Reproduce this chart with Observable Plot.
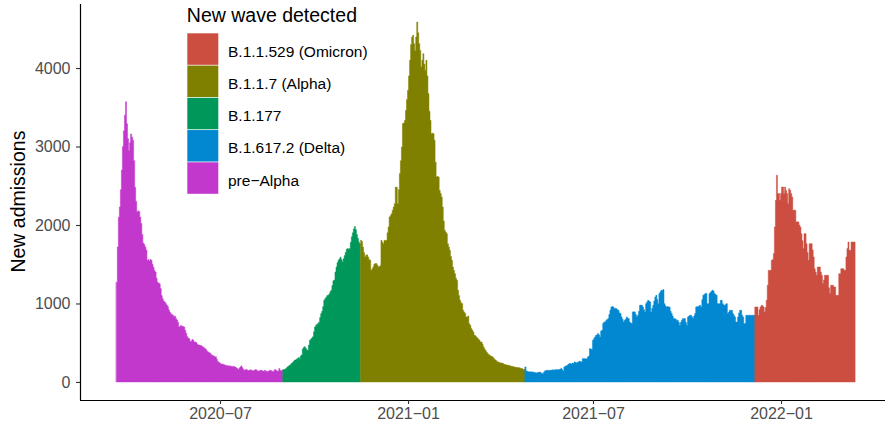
<!DOCTYPE html>
<html><head><meta charset="utf-8">
<script src="https://cdn.jsdelivr.net/npm/d3@7"></script>
<script src="https://cdn.jsdelivr.net/npm/@observablehq/plot@0.6"></script>
<style>body{margin:0;background:#fff}#chart{width:886px;height:425px}</style>
</head><body><div id="chart"></div>
<script>
// Wave names (legend order) and colours
const waveNames = ["B.1.1.529 (Omicron)", "B.1.1.7 (Alpha)", "B.1.177", "B.1.617.2 (Delta)", "pre\u2212Alpha"];
const waveColors = ["#CC4E41", "#808000", "#00975A", "#0288D1", "#C238CC"];

// First day of each wave's run of daily values
const preAlphaStart = "2020-03-22";
const b1177Start = "2020-09-01";
const alphaStart = "2020-11-16";
const deltaStart = "2021-04-26";
const omicronStart = "2021-12-07";

// Daily new admissions
const preAlphaValues = [
1270,1720,2100,2230,2450,2700,3000,3200,3400,3570,
3290,3100,2950,3050,3160,3120,3080,2820,2480,2300,
2170,2180,2170,2100,2020,1880,1770,1750,1720,1680,
1550,1560,1540,1560,1550,1500,1460,1420,1400,1320,
1270,1260,1250,1190,1100,1060,1030,1020,1000,980,
960,920,890,870,860,850,830,840,810,790,
760,700,710,720,710,705,700,660,620,580,
560,550,520,520,540,530,510,510,500,480,
470,470,465,460,450,440,430,420,400,385,
380,370,360,340,340,330,320,320,290,260,
250,240,230,230,225,220,215,210,210,205,
200,205,200,195,200,195,190,180,170,160,
175,190,205,180,160,150,155,160,150,145,
150,155,150,140,145,150,160,150,140,135,
145,150,145,140,135,150,140,130,135,140,
150,145,135,130,145,160,150,140,135,170,
150,140,150];
const b1177Values = [
155,160,165,175,190,200,210,220,235,245,
260,275,280,290,300,310,300,330,345,420,
440,450,430,410,405,470,530,545,560,575,
640,700,720,735,745,760,820,870,900,960,
1040,1060,1080,1100,1105,1120,1150,1170,1230,1290,
1300,1400,1465,1520,1550,1570,1590,1560,1530,1570,
1610,1650,1690,1700,1690,1700,1780,1850,1900,1950,
1980,1940,1880,1830,1780,1760];
const alphaValues = [
1805,1790,1720,1650,1592,1614,1620,1592,1560,1550,
1423,1440,1465,1500,1508,1508,1490,1465,1470,1480,
1805,1780,1762,1805,1800,1805,1900,1975,2102,2120,
2144,2187,2230,2272,2484,2480,2272,2450,2655,2820,
2994,3292,3300,3334,3461,3600,3716,3900,4098,4300,
4395,4417,4310,4225,4395,4586,4450,4310,4225,4013,
4100,4183,4050,3970,4098,3900,3674,3450,3334,3164,
3170,3164,3079,2800,2611,2620,2611,2441,2400,2357,
2229,2050,1932,1910,1890,1762,1720,1677,1600,1550,
1465,1420,1380,1320,1295,1168,1100,1041,1010,998,
914,890,871,828,828,840,743,720,680,660,
637,595,590,574,560,545,531,510,510,480,
446,420,400,382,361,350,340,330,325,318,
300,285,275,265,255,250,245,242,240,235,
225,221,218,215,213,210,205,200,200,195,
191,190,185,183,183,180,175,170,168,160,
157];
const deltaValues = [
191,140,135,130,127,130,128,127,125,120,
118,115,120,125,127,118,110,106,125,140,
145,148,149,145,150,149,152,155,150,157,
160,155,157,160,165,170,160,140,191,200,
205,213,225,234,234,230,240,234,255,250,
242,250,258,263,260,255,297,300,295,297,
297,318,330,425,420,412,531,550,573,594,
600,616,600,573,650,658,744,764,765,786,
795,807,860,913,955,960,955,934,940,934,
920,913,880,871,829,800,765,786,800,829,
815,807,765,750,744,892,895,892,860,829,
850,900,977,980,977,955,920,892,998,1020,
1041,1030,1019,892,940,977,1030,1083,1104,1050,
998,1126,1150,1168,1170,1177,998,970,955,960,
955,955,900,871,840,807,807,800,786,786,
760,722,760,786,807,805,807,760,722,829,
840,850,850,830,807,840,871,955,960,955,
970,977,955,1050,1104,1115,1126,1126,998,998,
1126,1140,1155,1168,1160,1126,1115,1104,1000,998,
998,1041,1041,998,980,977,990,998,871,890,
913,913,913,871,850,829,765,765,829,880,
913,913,850,829,744,744,850,850,850,850,
850,850,850,850,850];
const omicronValues = [
955,955,955,850,920,955,977,970,955,892,
950,1041,1232,1423,1420,1423,1550,1560,1636,1975,
2315,2633,2400,2400,2315,2400,2484,2484,2400,2484,
2440,2400,2272,2463,2442,2400,2357,2187,2190,2187,
2039,2040,2039,2000,1975,1890,1800,1700,1890,1890,
1762,1650,1550,1762,1762,1762,1680,1592,1444,1400,
1359,1465,1465,1465,1400,1359,1253,1300,1359,1359,
1359,1359,1200,1126,1232,1232,1232,1211,1211,1104,
1104,1104,1380,1380,1444,1444,1444,1423,1423,1592,
1700,1783,1677,1677,1783,1783,1783,1783];

// Axis ticks
const xTicks = ["2020-07-01", "2021-01-01", "2021-07-01", "2022-01-01"];
const yTicks = [0, 1000, 2000, 3000, 4000];

const DAY = 864e5;
const series = [
  {name: waveNames[4], start: preAlphaStart, values: preAlphaValues},
  {name: waveNames[2], start: b1177Start, values: b1177Values},
  {name: waveNames[1], start: alphaStart, values: alphaValues},
  {name: waveNames[3], start: deltaStart, values: deltaValues},
  {name: waveNames[0], start: omicronStart, values: omicronValues}
];
// Each day is a one-day-wide column centred on its date: a step outline
// starting half a day before the date, closed half a day after the last one.
const rows = [];
for (const s of series) {
  const t = Date.parse(s.start + "T00:00:00Z");
  s.values.forEach((v, i) => rows.push({wave: s.name, edge: new Date(t + (i - 0.5) * DAY), value: v}));
  const n = s.values.length;
  rows.push({wave: s.name, edge: new Date(t + (n - 0.5) * DAY), value: s.values[n - 1]});
}
const t0 = Date.parse(preAlphaStart + "T00:00:00Z");
const xDomain = [new Date(t0 - 36.0 * DAY), new Date(t0 + 751.75 * DAY)];
const yDomain = [-230, 4816];
const font = "'Liberation Sans', Arial, Helvetica, sans-serif";

const plot = Plot.plot({
  width: 886, height: 425,
  marginLeft: 80, marginRight: 1, marginTop: 4, marginBottom: 25,
  style: {fontFamily: font, background: "#fff", overflow: "visible"},
  x: {type: "utc", domain: xDomain},
  y: {domain: yDomain},
  color: {domain: waveNames, range: waveColors},
  marks: [
    Plot.area(rows, {x1: "edge", y1: 0, y2: "value", fill: "wave", stroke: "wave", strokeWidth: 0.5, z: "wave", curve: "step-after"}),
    Plot.ruleX([xDomain[0]], {stroke: "#000", strokeWidth: 1.2}),
    Plot.ruleY([yDomain[0]], {stroke: "#000", strokeWidth: 1.2}),
    Plot.axisY(yTicks, {tickFormat: d3.format("d"), tickSize: 4, tickPadding: 6, fontSize: 16, fill: "#4d4d4d", stroke: "#333", strokeWidth: 1.1, label: null}),
    Plot.axisX(xTicks.map(d => new Date(d + "T00:00:00Z")), {tickFormat: d3.utcFormat("%Y\u2212%m"), tickSize: 4, tickPadding: 3, fontSize: 16, fill: "#4d4d4d", stroke: "#333", strokeWidth: 1.1, label: null})
  ]
});
document.getElementById("chart").appendChild(plot);

const color = plot.scale("color");
const svg = d3.select(plot);
svg.append("text")
  .attr("transform", "translate(25,201.6) rotate(-90)")
  .attr("text-anchor", "middle").attr("font-size", 19.5).attr("fill", "#000")
  .text("New admissions");
const lg = svg.append("g").attr("fill", "#000").attr("text-anchor", "start");
lg.append("text").attr("x", 186.8).attr("y", 21.7).attr("font-size", 19.5).text("New wave detected");
waveNames.forEach((n, i) => {
  lg.append("rect").attr("x", 187.3).attr("y", 33.3 + 32.25 * i).attr("width", 31).attr("height", 31.5).attr("fill", color.apply(n));
  lg.append("text").attr("x", 228).attr("y", 56.7 + 32.25 * i).attr("font-size", 15.5).text(n);
});
</script></body></html>
